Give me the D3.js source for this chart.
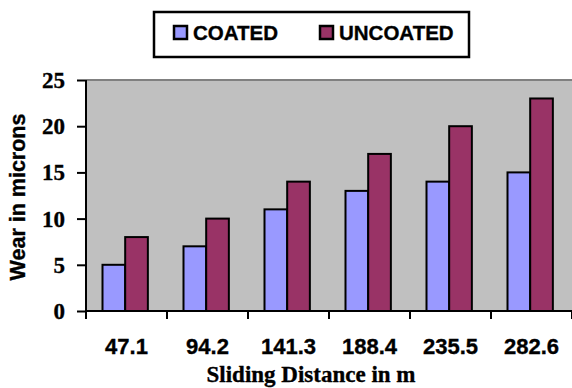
<!DOCTYPE html>
<html>
<head>
<meta charset="utf-8">
<script src="https://cdn.jsdelivr.net/npm/d3@7/dist/d3.min.js"></script>
<style>
  html, body { margin: 0; padding: 0; background: #fff; }
  svg { display: block; }
  text { stroke: #000; stroke-width: 0.35px; fill: #000; }
</style>
</head>
<body>
<svg id="chart" width="572" height="388"></svg>
<script>
// Wear vs sliding distance, coated and uncoated pins
const distances = ["47.1", "94.2", "141.3", "188.4", "235.5", "282.6"];
const coated = [5, 7, 11, 13, 14, 15];
const uncoated = [8, 10, 14, 17, 20, 23];
const seriesNames = ["COATED", "UNCOATED"];
const seriesColors = ["#9999FF", "#993366"];
const yTicks = [0, 5, 10, 15, 20, 25];

const sansBold = "'Liberation Sans', Arial, sans-serif";
const serifBold = "'Liberation Serif', 'Times New Roman', serif";

const svg = d3.select("#chart");
const plot = { left: 86, right: 572, top: 80, bottom: 311 };

const x = d3.scaleBand().domain(distances).range([plot.left, plot.right]).paddingInner(0).paddingOuter(0);
const inner = d3.scaleBand().domain(seriesNames).range([16.5, 16.5 + x.bandwidth() * 0.56]);
const y = d3.scaleLinear().domain([0, 25]).range([plot.bottom, plot.top]);

// plot background
svg.append("rect")
  .attr("x", plot.left).attr("y", plot.top)
  .attr("width", plot.right - plot.left).attr("height", plot.bottom - plot.top)
  .attr("fill", "#C0C0C0");
svg.append("line")
  .attr("x1", plot.left).attr("x2", plot.right)
  .attr("y1", plot.top).attr("y2", plot.top)
  .attr("stroke", "#808080").attr("stroke-width", 2);

// bars
const rows = distances.map((d, i) => ({ d, vals: [coated[i], uncoated[i]] }));
const groups = svg.append("g").selectAll("g").data(rows).join("g")
  .attr("transform", r => `translate(${x(r.d)},0)`);
groups.selectAll("rect")
  .data(r => r.vals.map((v, k) => ({ name: seriesNames[k], v, k })))
  .join("rect")
  .attr("x", b => inner(b.name))
  .attr("width", inner.bandwidth())
  .attr("y", b => y(b.v))
  .attr("height", b => y(0) - y(b.v))
  .attr("fill", b => seriesColors[b.k])
  .attr("stroke", "#000").attr("stroke-width", 2);

// y axis
const yAxis = svg.append("g")
  .attr("transform", `translate(${plot.left},0)`)
  .call(d3.axisLeft(y).tickValues(yTicks).tickSize(9).tickPadding(12).tickFormat(d3.format("d")));
yAxis.select(".domain").attr("stroke", "#000").attr("stroke-width", 2).attr("d", `M0,${plot.top}V${plot.bottom}`);
yAxis.selectAll(".tick line").attr("stroke", "#000").attr("stroke-width", 2);
yAxis.selectAll(".tick text")
  .attr("font-family", serifBold).attr("font-weight", "bold").attr("font-size", 23)
  .attr("fill", "#000").attr("dy", "0.33em");

// x axis: labels at band centres, ticks at band boundaries
const xAxis = svg.append("g")
  .attr("transform", `translate(0,${plot.bottom})`)
  .call(d3.axisBottom(x).tickSize(0).tickPadding(0));
xAxis.select(".domain").attr("stroke", "#000").attr("stroke-width", 2).attr("d", `M${plot.left},0H${plot.right}`);
xAxis.selectAll(".tick text")
  .attr("font-family", sansBold).attr("font-weight", "bold").attr("font-size", 22)
  .attr("fill", "#000").attr("y", 43).attr("dy", 0);
const bounds = distances.map(d => x(d)).concat([x.range()[1]]);
xAxis.selectAll("line.bound").data(bounds).join("line")
  .attr("class", "bound")
  .attr("x1", d => d).attr("x2", d => d)
  .attr("y1", 0).attr("y2", 8)
  .attr("stroke", "#000").attr("stroke-width", 2);

// axis titles
svg.append("text")
  .attr("x", 311).attr("y", 382)
  .attr("text-anchor", "middle")
  .attr("font-family", serifBold).attr("font-weight", "bold").attr("font-size", 23)
  .text("Sliding Distance in m");
svg.append("text")
  .attr("transform", "translate(25,197) rotate(-90)")
  .attr("text-anchor", "middle")
  .attr("font-family", sansBold).attr("font-weight", "bold").attr("font-size", 21.5)
  .text("Wear in microns");

// legend
const legend = svg.append("g");
legend.append("rect")
  .attr("x", 154).attr("y", 12).attr("width", 315).attr("height", 45)
  .attr("fill", "#fff").attr("stroke", "#000").attr("stroke-width", 2.5);
const legendX = [174, 320];
const items = legend.selectAll("g.item").data(seriesNames).join("g")
  .attr("class", "item")
  .attr("transform", (d, i) => `translate(${legendX[i]},0)`);
items.append("rect")
  .attr("x", 0).attr("y", 26).attr("width", 13).attr("height", 13)
  .attr("fill", (d, i) => seriesColors[i]).attr("stroke", "#000").attr("stroke-width", 2.5);
items.append("text")
  .attr("x", 19).attr("y", 40)
  .attr("font-family", sansBold).attr("font-weight", "bold").attr("font-size", 20.5)
  .text(d => d);
</script>
</body>
</html>
